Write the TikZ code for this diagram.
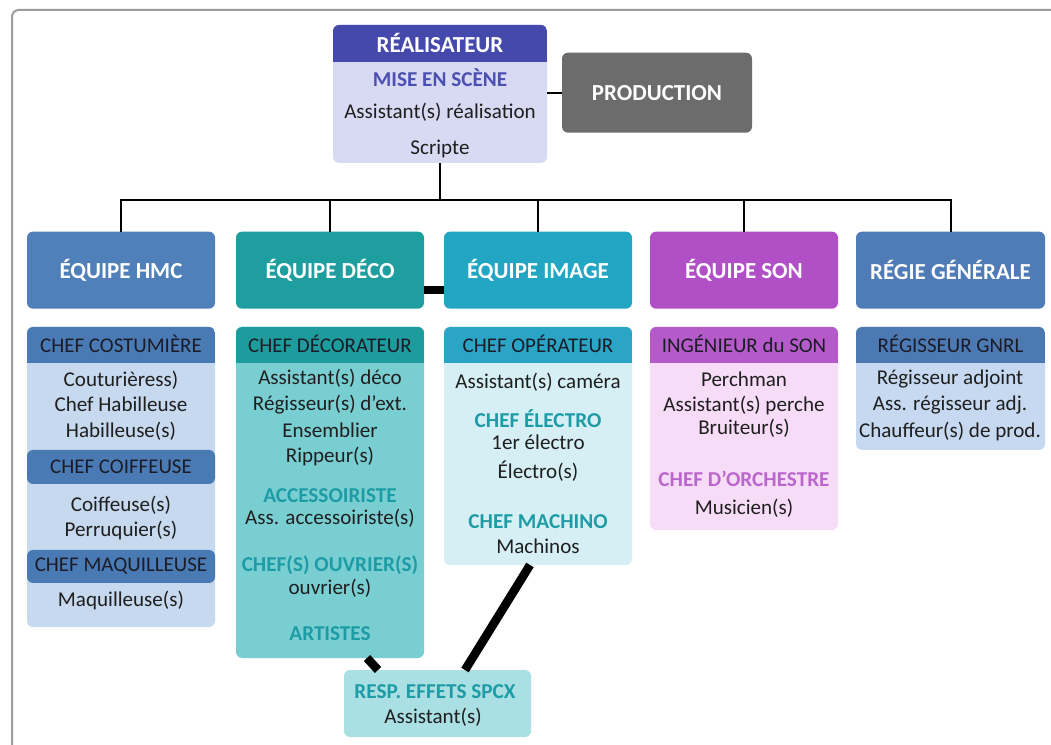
\documentclass[tikz,border=0pt]{standalone}
\usepackage{fontspec}
\setmainfont{Carlito}
\usetikzlibrary{calc}

\definecolor{framegray}{HTML}{9C9C9C}
\definecolor{realhead}{HTML}{4549AB}
\definecolor{realbody}{HTML}{D7DAF2}
\definecolor{realtext}{HTML}{4B50B2}
\definecolor{prodgray}{HTML}{6B6C6B}
\definecolor{hmchead}{HTML}{4F80BA}
\definecolor{hmcsub}{HTML}{4A7AB4}
\definecolor{hmcbody}{HTML}{C7D9EF}
\definecolor{decohead}{HTML}{1F9E9F}
\definecolor{decosub}{HTML}{1C9C9D}
\definecolor{decobody}{HTML}{79CED2}
\definecolor{imghead}{HTML}{22A6C4}
\definecolor{imgsub}{HTML}{2AA5C5}
\definecolor{imgbody}{HTML}{D5EFF5}
\definecolor{sonhead}{HTML}{B14FC7}
\definecolor{sonsub}{HTML}{B55BC9}
\definecolor{sonbody}{HTML}{F6DCF6}
\definecolor{regiehead}{HTML}{4F7BB6}
\definecolor{regiesub}{HTML}{4D79B3}
\definecolor{regiebody}{HTML}{C6D9F0}
\definecolor{respbody}{HTML}{AADFE4}
\definecolor{tealtext}{HTML}{1D9CA6}
\definecolor{sontext}{HTML}{BB66CC}
\definecolor{darktext}{HTML}{1C1C28}

% panel from corner (x1,y1) to (x2,y2), in pixel units
\newcommand\pnode[7]{%
  \node[panel,#6,minimum width={(#4-#2)*0.75pt},minimum height={(#5-#3)*0.75pt}]
    (#1) at ({(#2+#4)/2},{(#3+#5)/2}) {#7};}
% column panel with a title band clipped to its rounded top
\newcommand\colpanel[9]{%
  \pnode{#1}{#2}{#3}{#4}{#5}{fill=#7}{}%
  \begin{scope}
    \clip[rounded corners=4.5pt] (#2,#3) rectangle (#4,#5);
    \pnode{#1top}{#2}{#3}{#4}{#6}{sharp corners,#8}{#9}
  \end{scope}}

\begin{document}
\begin{tikzpicture}[x=0.75pt,y=-0.75pt,
  panel/.style={rectangle,draw=none,inner sep=0pt,outer sep=0pt,rounded corners=4.5pt},
  head/.style={text=white,yshift=1pt,font=\fontsize{17.2}{19}\selectfont\bfseries},
  sub/.style={text=darktext,yshift=1.5pt,font=\fontsize{15.7}{17}\selectfont},
  body/.style={text=black!88,inner sep=0pt,text height=0.68em,text depth=0.18em,
    yshift=-2.4pt,font=\fontsize{15.8}{17}\selectfont},
  subhead/.style={body,font=\fontsize{15.9}{17}\selectfont\bfseries},
  wire/.style={line width=1.5pt,black},
  heavy/.style={line width=6.5pt,black}]

\useasboundingbox (0,0) rectangle (1051,745);
\fill[white] (0,0) rectangle (1051,745);
\draw[framegray,line width=1.5pt,rounded corners=5pt] (12,745) -- (12,10) -- (1051,10);

% direction
\colpanel{real}{333}{25}{547}{163}{63}{realbody}{fill=realhead,head}{RÉALISATEUR}
\node[subhead,text=realtext] (mise) at (440,80) {MISE EN SCÈNE};
\node[body] (asr) at (440,112) {Assistant(s) réalisation};
\node[body] (scr) at (440,148) {Scripte};
\pnode{prod}{562}{54}{752}{134}{fill=prodgray,head}{PRODUCTION}

% team headers
\pnode{hmc}{27}{233}{215}{310}{fill=hmchead,head}{ÉQUIPE HMC}
\pnode{deco}{236}{233}{424}{310}{fill=decohead,head}{ÉQUIPE DÉCO}
\pnode{image}{444}{233}{632}{310}{fill=imghead,head}{ÉQUIPE IMAGE}
\pnode{son}{650}{233}{838}{310}{fill=sonhead,head}{ÉQUIPE SON}
\pnode{regie}{856}{233}{1045}{310}{fill=regiehead,head}{RÉGIE GÉNÉRALE}

% team columns
\colpanel{hmcb}{27}{327}{215}{627}{365}{hmcbody}{fill=hmcsub,sub}{CHEF COSTUMIÈRE}
\colpanel{decob}{236}{327}{424}{658}{365}{decobody}{fill=decosub,sub}{CHEF DÉCORATEUR}
\colpanel{imageb}{444}{327}{632}{565}{365}{imgbody}{fill=imgsub,sub}{CHEF OPÉRATEUR}
\colpanel{sonb}{650}{327}{838}{530}{365}{sonbody}{fill=sonsub,sub}{INGÉNIEUR du SON}
\colpanel{regieb}{856}{327}{1045}{450}{365}{regiebody}{fill=regiesub,sub}{RÉGISSEUR GNRL}
\pnode{coif}{27}{452}{215}{486}{fill=hmcsub,sub}{CHEF COIFFEUSE}
\pnode{maq}{27}{552}{215}{585}{fill=hmcsub,sub}{CHEF MAQUILLEUSE}
\pnode{resp}{344}{670}{531}{737}{fill=respbody}{}

% HMC
\node[body] (hmc1) at (121,380) {Couturièress)};
\node[body] (hmc2) at (121,405) {Chef Habilleuse};
\node[body] (hmc3) at (121,431) {Habilleuse(s)};
\node[body] (hmc4) at (121,505) {Coiffeuse(s)};
\node[body] (hmc5) at (121,530) {Perruquier(s)};
\node[body] (hmc6) at (121,600) {Maquilleuse(s)};

% DÉCO
\node[body] (deco1) at (330,378) {Assistant(s) déco};
\node[body] (deco2) at (330,404) {Régisseur(s) d’ext.};
\node[body] (deco3) at (330,431) {Ensemblier};
\node[body] (deco4) at (330,456) {Rippeur(s)};
\node[subhead,text=tealtext] (deco5) at (330,496) {ACCESSOIRISTE};
\node[body] (deco6) at (330,518) {Ass. accessoiriste(s)};
\node[subhead,text=tealtext] (deco7) at (330,565) {CHEF(S) OUVRIER(S)};
\node[body] (deco8) at (330,588) {ouvrier(s)};
\node[subhead,text=tealtext] (deco9) at (330,634) {ARTISTES};

% IMAGE
\node[body] (img1) at (538,382) {Assistant(s) caméra};
\node[subhead,text=tealtext] (img2) at (538,421) {CHEF ÉLECTRO};
\node[body] (img3) at (538,443) {1er électro};
\node[body] (img4) at (538,472) {Électro(s)};
\node[subhead,text=tealtext] (img5) at (538,522) {CHEF MACHINO};
\node[body] (img6) at (538,547) {Machinos};

% SON
\node[body] (son1) at (744,380) {Perchman};
\node[body] (son2) at (744,405) {Assistant(s) perche};
\node[body] (son3) at (744,428) {Bruiteur(s)};
\node[subhead,text=sontext] (son4) at (744,480) {CHEF D’ORCHESTRE};
\node[body] (son5) at (744,508) {Musicien(s)};

% RÉGIE
\node[body] (reg1) at (950,378) {Régisseur adjoint};
\node[body] (reg2) at (950,404) {Ass. régisseur adj.};
\node[body] (reg3) at (950,431) {Chauffeur(s) de prod.};

% special effects
\node[subhead,text=tealtext] (resp1) at (435,692) {RESP. EFFETS SPCX};
\node[body] (resp2) at (433,717) {Assistant(s)};

% connectors
\coordinate (busy) at (0,200);
\coordinate (linky) at (0,290);
\coordinate (cutA) at (367,0);
\coordinate (cutB) at (378,0);
\coordinate (cutC) at (530,0);
\coordinate (cutD) at (465,0);
\draw[wire] (real.east |- prod.west) -- (prod.west);
\draw[wire] (real.south) -- (real.south |- busy);
\draw[wire] (hmc.north) -- (hmc.north |- busy) -- (regie.north |- busy) -- (regie.north);
\foreach \n in {deco,image,son}
  \draw[wire] (\n.north) -- (\n.north |- busy);
\draw[heavy] (deco.east |- linky) -- (image.west |- linky);
\draw[heavy] (cutA |- decob.south) -- (cutB |- resp.north);
\draw[heavy] (cutC |- imageb.south) -- (cutD |- resp.north);
\end{tikzpicture}
\end{document}
